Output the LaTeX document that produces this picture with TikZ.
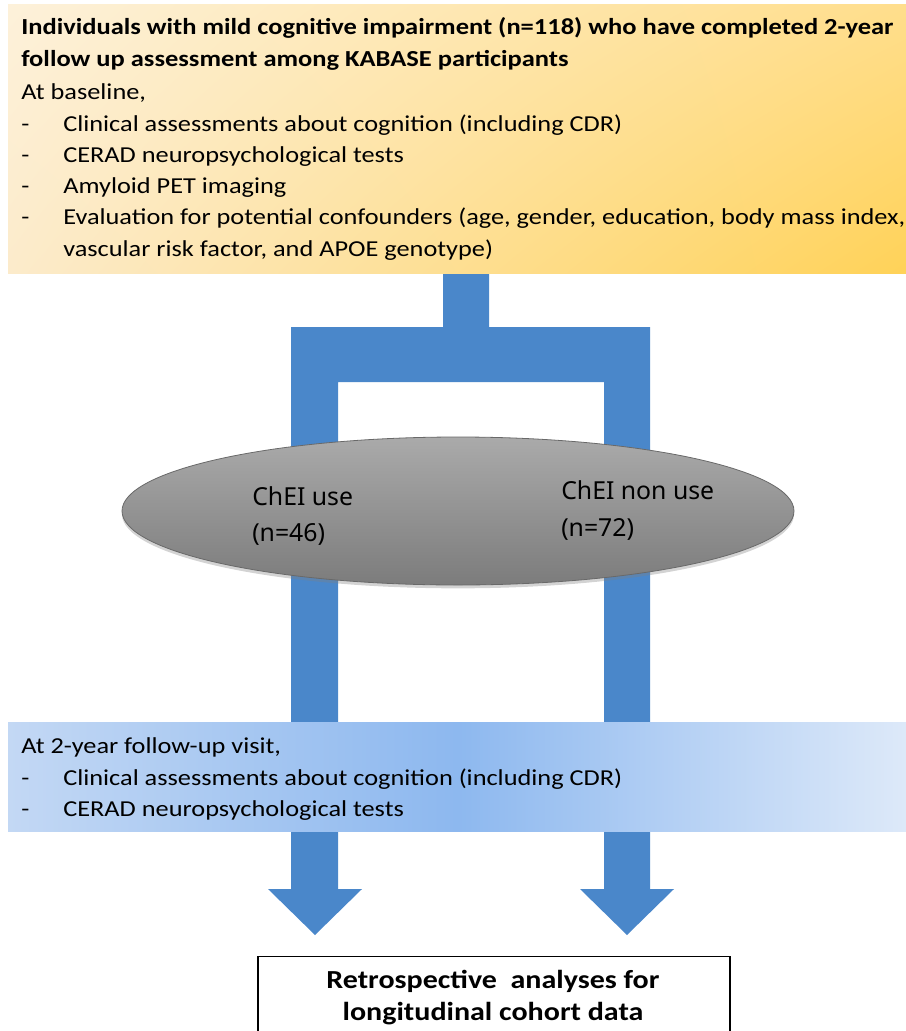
\documentclass[tikz,border=0pt]{standalone}
\usepackage{fontspec}
\setmainfont{Carlito}[FakeStretch=1.155]
\newfontfamily\ellfont{Noto Sans}
\usetikzlibrary{shapes.geometric,shadows,shadings}
\definecolor{arrowblue}{RGB}{74,135,202}
\definecolor{peachUL}{RGB}{253,241,218}
\definecolor{peachLL}{RGB}{252,235,203}
\definecolor{goldUR}{RGB}{255,222,140}
\definecolor{goldLR}{RGB}{255,210,88}
\definecolor{fuL}{RGB}{195,216,244}
\definecolor{fuM}{RGB}{141,184,239}
\definecolor{fuR}{RGB}{221,233,249}
\definecolor{ellTop}{RGB}{170,170,170}
\definecolor{ellBot}{RGB}{124,124,124}
\definecolor{ellLine}{RGB}{105,105,105}
\begin{document}
\begin{tikzpicture}[x=0.75pt,y=-0.75pt,
  txt/.style={anchor=base west, inner sep=0pt, font=\fontsize{17.1}{20}\selectfont},
  txtb/.style={txt, font=\fontsize{17.2}{20}\selectfont\bfseries},
  ell/.style={anchor=base west, inner sep=0pt, font=\ellfont\fontsize{18.6}{22}\selectfont},
  res/.style={anchor=base, inner sep=0pt, font=\fontsize{19.5}{24}\selectfont\bfseries},
  panel/.style={inner sep=0pt, outer sep=0pt, draw=none}]
\useasboundingbox (0,0) rectangle (906,1031);
% blue arrow structure
\fill[arrowblue] (443,273) -- (489,273) -- (489,327) -- (650,327) -- (650,889) -- (674,889)
  -- (627,935) -- (580,889) -- (604,889) -- (604,382) -- (338,382) -- (338,889) -- (362,889)
  -- (315,935) -- (268,889) -- (291,889) -- (291,327) -- (443,327) -- cycle;
% top panel
\node[panel, minimum width=673.5pt, minimum height=201pt, shade, shading=bilinear interpolation,
  upper left=peachUL, lower left=peachLL, upper right=goldUR, lower right=goldLR] (base) at (457,139) {};
\node[txtb] (t1) at (21,35) {Individuals with mild cognitive impairment (n=118) who have completed 2-year};
\node[txtb] (t2) at (21,66.5) {follow up assessment among KABASE participants};
\node[txt] (t3) at (21,99) {At baseline,};
\node[txt] (d1) at (21,131) {-};
\node[txt] (i1) at (63,131) {Clinical assessments about cognition (including CDR)};
\node[txt] (d2) at (21,162) {-};
\node[txt] (i2) at (63,162) {CERAD neuropsychological tests};
\node[txt] (d3) at (21,193.5) {-};
\node[txt] (i3) at (63,193.5) {Amyloid PET imaging};
\node[txt] (d4) at (21,224.5) {-};
\node[txt] (i4) at (63,224.5) {Evaluation for potential confounders (age, gender, education, body mass index,};
\node[txt] (i5) at (63,256) {vascular risk factor, and APOE genotype)};
% ellipse
\node[ellipse, draw=ellLine, line width=0.6pt, minimum width=504pt, minimum height=111pt, inner sep=0pt,
  top color=ellTop, bottom color=ellBot,
  drop shadow={shadow xshift=0pt, shadow yshift=-2.5pt, opacity=0.35}] (grp) at (458,511) {};
\node[ell] (e1) at (252,505) {ChEI use};
\node[ell] (e2) at (252,541.5) {(n=46)};
\node[ell] (e3) at (561,499) {ChEI non use};
\node[ell] (e4) at (561,536.5) {(n=72)};
% follow-up panel
\node[panel, minimum width=673.5pt, minimum height=81.75pt,
  left color=fuL, right color=fuR, middle color=fuM] (fu) at (457,776.5) {};
\node[txt] (f1) at (21,753) {At 2-year follow-up visit,};
\node[txt] (fd1) at (21,785.5) {-};
\node[txt] (fi1) at (63,785.5) {Clinical assessments about cognition (including CDR)};
\node[txt] (fd2) at (21,816) {-};
\node[txt] (fi2) at (63,816) {CERAD neuropsychological tests};
% result box
\node[draw=black, line width=1.1pt, fill=white, minimum width=354pt, minimum height=75pt, inner sep=0pt, anchor=north] (box) at (494,956) {};
\node[res] (r1) at (493,988) {Retrospective\ \ analyses for};
\node[res] (r2) at (493,1020.5) {longitudinal cohort data};
\end{tikzpicture}
\end{document}
